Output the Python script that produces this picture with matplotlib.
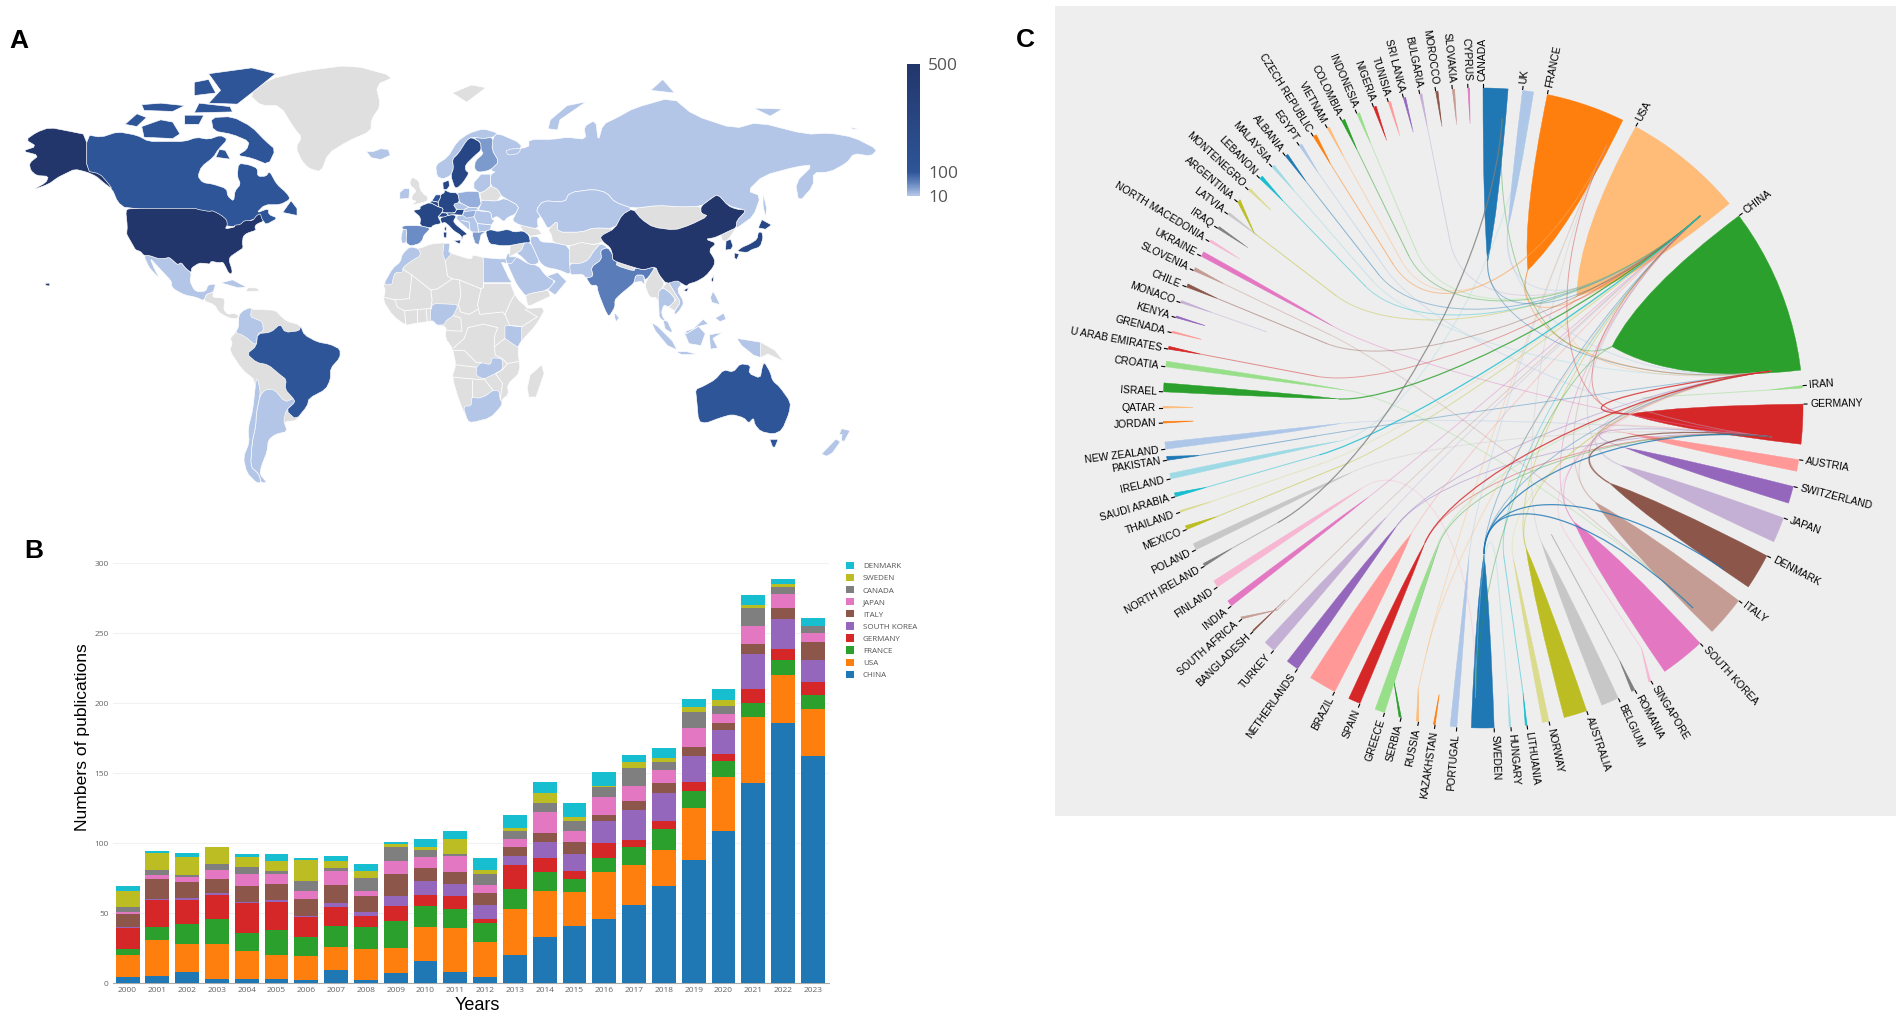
import numpy as np
import matplotlib
matplotlib.use('Agg')
import matplotlib.pyplot as plt
from matplotlib.colors import LinearSegmentedColormap
from matplotlib.patches import PathPatch, Polygon
from matplotlib.path import Path

W, H = 1902, 1018

# ---- panel B data
years = list(range(2000, 2024))
china = [4, 5, 8, 3, 3, 3, 2, 9, 2, 7, 16, 8, 4, 20, 33, 41, 46, 56, 69, 88, 109, 143, 186, 162]
usa = [16, 26, 20, 25, 20, 17, 17, 17, 22, 18, 24, 31, 25, 33, 33, 24, 33, 28, 26, 37, 38, 47, 34, 34]
france = [4, 9, 14, 18, 13, 18, 14, 15, 16, 19, 15, 14, 14, 14, 13, 9, 10, 13, 15, 12, 12, 10, 11, 10]
germany = [15, 19, 17, 17, 21, 20, 14, 13, 8, 11, 8, 9, 3, 17, 10, 6, 11, 5, 6, 7, 5, 10, 8, 9]
korea = [1, 1, 2, 1, 1, 1, 1, 3, 3, 7, 10, 9, 10, 7, 12, 12, 16, 22, 20, 18, 17, 25, 21, 16]
italy = [9, 14, 11, 10, 11, 12, 12, 13, 11, 16, 9, 8, 8, 6, 6, 9, 4, 6, 7, 7, 5, 7, 8, 13]
japan = [2, 3, 4, 7, 9, 7, 6, 10, 4, 9, 8, 12, 6, 6, 15, 8, 13, 11, 9, 13, 6, 13, 10, 6]
canada = [3, 4, 1, 4, 5, 2, 7, 2, 9, 10, 5, 1, 8, 6, 7, 7, 7, 13, 6, 12, 6, 13, 5, 5]
sweden = [12, 12, 13, 12, 7, 7, 15, 5, 5, 2, 2, 11, 3, 2, 7, 3, 1, 4, 3, 3, 4, 2, 2, 0]
denmark = [3, 1, 3, 0, 2, 5, 1, 4, 5, 2, 6, 6, 8, 9, 8, 10, 10, 5, 7, 6, 8, 7, 4, 6]
bar_series = [china, usa, france, germany, korea, italy, japan, canada, sweden, denmark]
bar_names = ['CHINA', 'USA', 'FRANCE', 'GERMANY', 'SOUTH KOREA', 'ITALY', 'JAPAN', 'CANADA', 'SWEDEN', 'DENMARK']

# ---- panel C data: name, outer arc start, outer arc end, tip radius, tip angle (degrees clockwise from north)
chord_names = ['CANADA', 'UK', 'FRANCE', 'USA', 'CHINA', 'IRAN', 'GERMANY', 'AUSTRIA', 'SWITZERLAND', 'JAPAN',
               'DENMARK', 'ITALY', 'SOUTH KOREA', 'SINGAPORE', 'ROMANIA', 'BELGIUM', 'AUSTRALIA', 'NORWAY',
               'LITHUANIA', 'HUNGARY', 'SWEDEN', 'PORTUGAL', 'KAZAKHSTAN', 'RUSSIA', 'SERBIA', 'GREECE', 'SPAIN',
               'BRAZIL', 'NETHERLANDS', 'TURKEY', 'BANGLADESH', 'SOUTH AFRICA', 'INDIA', 'FINLAND', 'NORTH IRELAND',
               'POLAND', 'MEXICO', 'THAILAND', 'SAUDI ARABIA', 'IRELAND', 'PAKISTAN', 'NEW ZEALAND', 'JORDAN',
               'QATAR', 'ISRAEL', 'CROATIA', 'U ARAB EMIRATES', 'GRENADA', 'KENYA', 'MONACO', 'CHILE', 'SLOVENIA',
               'UKRAINE', 'NORTH MACEDONIA', 'IRAQ', 'LATVIA', 'ARGENTINA', 'MONTENEGRO', 'LEBANON', 'MALAYSIA',
               'ALBANIA', 'EGYPT', 'CZECH REPUBLIC', 'VIETNAM', 'COLOMBIA', 'INDONESIA', 'NIGERIA', 'TUNISIA',
               'SRI LANKA', 'BULGARIA', 'MOROCCO', 'SLOVAKIA', 'CYPRUS']
chord_start = [0, 7.1, 11.6, 28.5, 53.1, 86, 89.3, 99.3, 104.2, 110.1, 117.5, 127, 137.3, 148.4, 151.7, 155, 161.1,
               168.1, 172.1, 175, 178, 184.7, 188.6, 191.6, 194.8, 197.9, 202.6, 207.6, 215.4, 220.8, 225.8, 228.8,
               231.8, 236, 240.4, 243.7, 247.7, 251, 253.9, 257.2, 260.6, 262.6, 267.3, 270, 272.9, 277.4, 280.6,
               283.6, 286.4, 289.2, 292.2, 295.4, 298.3, 301.3, 304.1, 307.2, 310, 312.9, 315.8, 318.8, 321.9, 325,
               328, 330.9, 333.8, 336.8, 340, 342.8, 345.6, 348.6, 351.5, 354.5, 357.3]
chord_end = [4.5, 9.1, 25.9, 50.3, 83.2, 86.4, 96.5, 101.4, 107.3, 114.7, 124, 134.3, 145.4, 148.8, 152.3, 158.2,
             165.3, 169.3, 172.4, 175.3, 182.1, 185.9, 188.9, 192, 195.2, 199.7, 204.8, 212.6, 217.7, 222.9, 226,
             229.2, 232.9, 237.3, 240.9, 244.9, 248.4, 251.3, 254.6, 258.2, 261.3, 263.9, 267.6, 270.3, 274.5, 278.4,
             281.1, 283.9, 286.7, 289.6, 292.8, 296, 299.2, 301.7, 304.5, 307.6, 310.6, 313.3, 316.4, 319.3, 322.4,
             325.5, 328.6, 331.3, 334.4, 337.3, 340.5, 343.2, 346, 349, 351.9, 354.9, 357.6]
chord_tip_r = [146, 183, 145, 146, 143, 160, 146, 146, 148, 148, 147, 146, 146, 152, 144, 147, 146, 153, 150, 173,
               146, 149, 290, 250, 146, 146, 147, 145, 146, 145, 276, 164, 145, 145, 235, 146, 146, 170, 170, 146,
               170, 143, 290, 290, 145, 139, 170, 290, 290, 230, 170, 170, 170, 285, 285, 285, 186, 290, 170, 170,
               170, 170, 170, 170, 170, 170, 285, 285, 285, 170, 285, 285, 285]
chord_tip_a = [1.8, 7.9, 18, 40, 64.5, 86.4, 92.4, 99.9, 105.6, 112.6, 120.7, 130, 141.4, 146.6, 151.6, 156.5, 162.9,
               168.6, 172, 175, 179.6, 185.4, 188.7, 193, 198, 198.4, 203.3, 209.7, 216.2, 221.5, 225.9, 225.5, 232.1,
               236.5, 240.8, 243.9, 247.8, 251, 254, 257, 260.5, 263.8, 267.4, 270.1, 273.6, 277.4, 280.8, 283.7,
               286.5, 289.4, 292.4, 295.6, 298.6, 301.5, 304.3, 307.4, 307.4, 313, 316, 319, 322, 325, 328, 331, 334,
               337, 340.2, 343, 345.8, 348.8, 351.7, 354.7, 357.4]
# where links land inside the larger sectors
hub_angle = {'CANADA': 3.8, 'UK': 8.7, 'FRANCE': 25.2, 'USA': 48.5, 'CHINA': 82.7, 'GERMANY': 95.7, 'AUSTRIA': 100.8,
             'SWITZERLAND': 107, 'JAPAN': 114.5, 'DENMARK': 123.8, 'ITALY': 133.6, 'SWEDEN': 181.5}
chord_links = [('PAKISTAN', 'CHINA'), ('IRELAND', 'UK'),
               ('NEW ZEALAND', 'GERMANY'), ('MEXICO', 'USA'), ('POLAND', 'GERMANY'),
               ('FINLAND', 'SWEDEN'), ('INDIA', 'USA'), ('SOUTH AFRICA', 'USA'), ('TURKEY', 'USA'),
               ('NETHERLANDS', 'GERMANY'), ('NETHERLANDS', 'CHINA'), ('BRAZIL', 'USA'), ('SPAIN', 'GERMANY'),
               ('GREECE', 'CHINA'), ('SERBIA', 'GERMANY'), ('RUSSIA', 'USA'), ('RUSSIA', 'FRANCE'),
               ('PORTUGAL', 'FRANCE'), ('SWEDEN', 'CHINA'),
               ('SWEDEN', 'USA'), ('HUNGARY', 'SWEDEN'), ('LITHUANIA', 'USA'),
               ('NORWAY', 'CHINA'), ('AUSTRALIA', 'CHINA'), ('AUSTRALIA', 'USA'), ('BELGIUM', 'FRANCE'),
               ('SINGAPORE', 'CHINA'), ('SOUTH KOREA', 'USA'), ('SOUTH KOREA', 'CHINA'), ('ITALY', 'USA'),
               ('ITALY', 'CHINA'), ('DENMARK', 'CHINA'), ('JAPAN', 'USA'), ('JAPAN', 'CHINA'),
               ('SWITZERLAND', 'GERMANY'), ('AUSTRIA', 'GERMANY'), ('GERMANY', 'USA'),
               ('GERMANY', 'FRANCE'), ('CANADA', 'USA'), ('CANADA', 'CHINA'), ('UK', 'USA'), ('UK', 'CHINA'),
               ('FRANCE', 'USA'), ('FRANCE', 'CHINA'), ('USA', 'CHINA'), ('CHINA', 'SWEDEN'), ('CHINA', 'CANADA'),
               ('ARGENTINA', 'USA'), ('MALAYSIA', 'CHINA'), ('LEBANON', 'USA'), ('ALBANIA', 'USA'),
               ('EGYPT', 'GERMANY'), ('CZECH REPUBLIC', 'FRANCE'), ('VIETNAM', 'FRANCE'), ('COLOMBIA', 'USA'),
               ('INDONESIA', 'USA'), ('BULGARIA', 'USA'), ('UKRAINE', 'GERMANY'), ('SLOVENIA', 'ITALY'),
               ('CHILE', 'USA'), ('CROATIA', 'ITALY'), ('U ARAB EMIRATES', 'USA'), ('THAILAND', 'USA')]
# the few links that stand out in the diagram
strong_links = [('ISRAEL', 'USA'), ('SAUDI ARABIA', 'USA'), ('NORTH IRELAND', 'CANADA'), ('SWEDEN', 'ITALY'),
                ('SWEDEN', 'GERMANY'), ('SWEDEN', 'DENMARK'), ('SPAIN', 'CHINA'), ('GERMANY', 'CHINA'),
                ('DENMARK', 'GERMANY')]

# ---- panel A data: rough country outlines, lon / lat
GREENLAND = [(-73, 78.2), (-68, 76), (-60, 76), (-54, 71), (-51, 69), (-53.5, 66.5), (-51, 63), (-48, 61), (-43, 60), (-40, 65), (-32, 68), (-22, 70.5), (-22, 73), (-18, 76), (-20, 80), (-12, 81.5), (-30, 83.5), (-50, 82.5), (-65, 81)]
ICELAND = [(-24, 65.5), (-22, 63.9), (-18, 63.4), (-14, 64.5), (-14.8, 66), (-18, 66.2), (-21, 65.5)]
SVALBARD = [(12, 78.5), (20, 80), (26, 79.5), (18, 76.7)]
ALASKA = [(-141, 69.6), (-148, 70.4), (-156.5, 71.3), (-162, 70.2), (-166.5, 68.4), (-162, 66.8), (-168, 65.6), (-161, 64.5), (-165, 62.5), (-164.5, 60.5), (-162, 59), (-157, 58.8), (-158, 57), (-164, 54.7), (-157, 56.5), (-153, 58.5), (-150, 59.5), (-146, 60.8), (-141, 60), (-137, 58.8), (-134, 57), (-130.3, 55), (-132, 56.8), (-135.5, 59.5), (-141, 60.3)]
USA48 = [(-124.7, 48.4), (-123, 49), (-95.2, 49), (-94.6, 48.7), (-89.6, 48), (-88.4, 48.3), (-84.9, 46.9), (-82.5, 45.3), (-82.1, 43.6), (-83.1, 42.1), (-79, 42.8), (-79.2, 43.4), (-76.8, 43.6), (-75, 45), (-71.5, 45), (-69.9, 46.7), (-68.3, 47.3), (-67.8, 45.7), (-67, 44.8), (-70, 43.7), (-70.7, 42.7), (-70, 41.7), (-74, 40.6), (-75.5, 39.5), (-75.9, 37.2), (-75.5, 35.3), (-77.9, 33.9), (-81, 32), (-81.4, 30.5), (-80.1, 26.8), (-80.4, 25.2), (-81.8, 26), (-82.8, 28), (-84, 30), (-85.5, 29.7), (-89, 30.3), (-89.5, 29.2), (-91.5, 29.5), (-94, 29.6), (-97.2, 27.7), (-97.2, 25.9), (-99.5, 27.5), (-101.4, 29.8), (-103, 29), (-104.9, 30.6), (-106.5, 31.8), (-108.2, 31.4), (-111, 31.3), (-114.8, 32.5), (-117.1, 32.5), (-118.5, 34), (-120.6, 34.6), (-122, 36.8), (-123.8, 39.5), (-124.3, 40.4), (-124, 43)]
HAWAII = [(-158.5, 21.6), (-156.5, 21.8), (-156.5, 20.6), (-158, 20.8)]
CANADA_MAIN = [(-141, 69.6), (-135, 69), (-128, 70.3), (-120, 69.5), (-115, 68), (-108, 68), (-100, 68), (-95, 69), (-90, 68.5), (-85, 69.5), (-82, 68.5), (-86, 66), (-88, 64), (-93, 61.5), (-94.5, 58.8), (-92.5, 57), (-88, 56.5), (-82.5, 55.2), (-82, 52.9), (-79.5, 51.3), (-79, 54.5), (-76.6, 56.5), (-78, 58.8), (-77.5, 62.4), (-73, 62), (-69.5, 61), (-69.5, 58.8), (-66, 58.8), (-64.5, 60.3), (-61.5, 56.5), (-57.5, 54), (-55.7, 52), (-60, 50.2), (-66.5, 50.2), (-70, 47.5), (-65, 49), (-64.8, 47), (-61, 45.8), (-66, 43.6), (-67, 44.8), (-70, 46), (-80, 42), (-95, 48), (-124.7, 49), (-128, 51), (-130.3, 55), (-134, 57), (-137, 58.8), (-141, 60.3)]
BAFFIN = [(-62, 66), (-65, 62), (-72, 63.8), (-78, 64.5), (-74, 66), (-73, 68), (-80, 69.7), (-88, 70.5), (-89, 73.5), (-80, 73.7), (-72, 71.5), (-66, 68)]
VICTORIA = [(-117, 69), (-105, 68.7), (-102, 69.8), (-105, 72.5), (-110, 73), (-118, 71.5)]
BANKS = [(-125, 72), (-120, 71.5), (-116, 73.5), (-120, 74.3)]
ELLESMERE = [(-90, 76.5), (-78, 76.3), (-72, 78.5), (-62, 82), (-72, 83), (-90, 82), (-85, 79)]
DEVON = [(-96, 74.5), (-80, 74.7), (-81, 75.8), (-94, 76.5)]
MELVILLE = [(-117, 75), (-105, 74.8), (-100, 76), (-110, 76.5), (-118, 76.2)]
HEIBERG = [(-96, 78), (-87, 78.5), (-90, 81), (-96, 80.5)]
KING_W = [(-100, 72), (-94, 72), (-92, 74), (-100, 74)]
SOUTHAMPTON = [(-87, 64), (-81, 63.5), (-83, 65.8), (-85.5, 66)]
NEWFOUNDLAND = [(-59, 47.7), (-53, 46.7), (-53, 49), (-55.5, 51.5)]
MEXICO = [(-117.1, 32.5), (-114.8, 32.5), (-111, 31.3), (-108.2, 31.4), (-106.5, 31.8), (-104.9, 30.6), (-103, 29), (-101.4, 29.8), (-99.5, 27.5), (-97.2, 25.9), (-97.8, 22.5), (-96, 19), (-94, 18.2), (-91, 18.7), (-90.4, 21), (-87, 21.5), (-88, 18.3), (-89, 17.9), (-91, 17.2), (-92, 14.6), (-95, 16), (-100, 17), (-104, 19), (-105.5, 20.5), (-105.5, 22.5), (-109, 26), (-112, 29), (-114.5, 31.5), (-112.5, 27), (-110, 23), (-109.5, 23), (-112, 25), (-115, 28)]
CENTRAL_AM = [(-92, 14.6), (-91, 17.2), (-89, 17.9), (-88, 18.3), (-88.3, 16), (-84, 15.8), (-83.2, 15), (-83.7, 11), (-82, 9), (-79.5, 9.5), (-77.4, 8.6), (-78, 7.3), (-80.5, 7.3), (-83, 8.3), (-85.8, 10), (-87.5, 13)]
CUBA = [(-84.9, 21.9), (-80, 23.1), (-74.2, 20.2), (-77.7, 19.9)]
HISPANIOLA = [(-74.4, 18.4), (-68.4, 18.6), (-69.9, 19.8), (-73.5, 19.9)]
SOUTH_AM = [(-77.4, 8.6), (-75.5, 10.7), (-72, 12), (-71.5, 11), (-68, 11), (-62, 10.7), (-60, 8.5), (-57, 6), (-52, 4.8), (-50, 0.5), (-44.5, -2.5), (-39, -3.5), (-35, -5.5), (-35, -9), (-39, -13.5), (-39, -18), (-41, -22), (-48, -25.5), (-48.7, -28.5), (-53, -34), (-58.5, -34.5), (-57, -38), (-62, -39), (-65, -41), (-65.5, -45), (-68, -50), (-68.5, -52.5), (-65.5, -55), (-70, -55), (-74, -52), (-75.5, -47), (-73, -42), (-73.5, -37), (-71.5, -30), (-70.2, -18.5), (-76, -14), (-81.3, -6), (-80, -3), (-81, -1), (-78.8, 1.4), (-77.4, 4)]
BRAZIL = [(-60, 5), (-58, 1.5), (-52, 2.2), (-51.5, 4.3), (-50, 0.5), (-44.5, -2.5), (-39, -3.5), (-35, -5.5), (-35, -9), (-39, -13.5), (-39, -18), (-41, -22), (-48, -25.5), (-48.7, -28.5), (-53.4, -33.7), (-57.6, -30.2), (-53.8, -27), (-54.6, -25.5), (-58, -22), (-57.5, -18), (-60.2, -16), (-65, -12), (-70, -11), (-74, -7.5), (-70, -4.2), (-69.5, 1), (-64, 1.5)]
ARGENTINA = [(-65.5, -55), (-68.5, -52.5), (-68, -50), (-65.5, -45), (-65, -41), (-62, -39), (-57, -38), (-58.5, -34.5), (-58.3, -33), (-57.6, -30.2), (-53.8, -27), (-54.6, -25.5), (-58, -27), (-62.5, -22), (-66.2, -22), (-68.5, -24.5), (-70, -31), (-70.3, -36), (-71.8, -42), (-72.5, -50), (-69, -52.3), (-68, -55)]
CHILE = [(-69.6, -17.5), (-68.5, -22), (-68.5, -24.5), (-70, -31), (-70.3, -36), (-71.8, -42), (-72.5, -50), (-69, -52.3), (-68, -55), (-70, -55), (-74, -52), (-75.5, -47), (-73, -42), (-73.5, -37), (-71.5, -30), (-70.2, -18.5)]
COLOMBIA = [(-77.4, 8.6), (-75.5, 10.7), (-72, 12), (-72.5, 8), (-70, 7), (-67.5, 6), (-67, 2), (-69.5, 1), (-70, -4.2), (-75, 0), (-78.8, 1.4), (-77.4, 4)]
AFRICA = [(-5.8, 35.8), (-2, 35), (3, 36.8), (10, 37.3), (11, 33.5), (15, 32.3), (20, 31), (20.5, 32.8), (25, 31.7), (32, 31.2), (34.3, 31.3), (32.5, 29.9), (35.5, 24), (37.5, 18.5), (39.5, 15), (43.2, 12), (43, 11.5), (51.2, 11.9), (47, 4.5), (41, -2), (39.3, -5), (40.5, -15), (35, -20), (35.5, -24), (32.8, -26), (32.5, -28.5), (28, -33), (20, -34.8), (18.3, -34), (15, -27), (11.8, -17), (13.5, -12), (12, -5), (9, -1), (9.5, 4), (5.5, 4.5), (4, 6.3), (-4, 5.2), (-7.5, 4.4), (-13, 8.5), (-17, 14.7), (-16, 19), (-17, 21), (-13, 27.7), (-9.8, 30), (-9, 33)]
MOROCCO = [(-5.8, 35.8), (-2, 35), (-1.2, 32.5), (-5, 30.5), (-8.7, 28), (-8.7, 26), (-12, 26), (-13, 23), (-13, 21.3), (-17, 21), (-13, 27.7), (-9.8, 30), (-9, 33)]
TUNISIA = [(8.5, 37), (11, 37), (10.5, 34), (11.5, 33), (9, 30.5), (8, 33)]
EGYPT = [(25, 31.7), (32, 31.2), (34.3, 31.3), (34.9, 29.5), (32.5, 29.9), (35.5, 24), (36.9, 22), (25, 22)]
NIGERIA = [(2.7, 6.3), (4, 6.3), (5.5, 4.5), (8.5, 4.7), (9.5, 6.5), (12.5, 8.5), (14.5, 13), (10, 13.3), (4, 13.5), (3, 11.5)]
KENYA = [(34, 4.2), (34, -1), (37.7, -3.6), (39.3, -4.7), (41, -1.8), (41, 3.9), (36, 4.4)]
ZAMBIA = [(22, -13), (24, -11), (28, -12), (28.5, -9), (33, -9.5), (33, -14), (30, -15.6), (28, -16.5), (25.3, -17.8), (22, -16.5)]
S_AFRICA = [(16.5, -28.6), (20, -28.4), (20, -25), (23, -25.5), (26, -24.5), (29, -22.3), (31.5, -22.5), (32, -26), (32.8, -27), (32.5, -28.5), (28, -33), (20, -34.8), (18.3, -34)]
MADAGASCAR = [(49.3, -12), (50.4, -15.5), (47, -25), (44, -25), (43.3, -21.5), (44.5, -16.2)]
AFRICA_BORDERS = [[(9, 30.5), (10, 24.5), (12, 23.5)], [(-8.7, 27.3), (-5, 25), (3, 19), (5.8, 19.5), (12, 23.5)], [(12, 23.5), (15, 23), (24, 19.5), (25, 20), (25, 22)], [(-5, 25), (-6, 15.5), (-12, 15), (-16.5, 16)], [(3, 19), (3.5, 15), (3, 11.5)], [(14.5, 13), (15.5, 16.5), (15, 23)], [(24, 19.5), (22.5, 13), (23.5, 9), (28, 9.5), (33, 10), (34, 9), (36.5, 14.5), (38.5, 18)], [(25, 22), (36.9, 22)], [(14.5, 13), (15.5, 10), (19, 9), (22.5, 11)], [(12.5, -6), (17, -6), (22, -11), (24, -11)], [(29.5, -4), (29.7, 0), (31, 3.5), (25, 5), (18.5, 3.5), (17, -1), (12.5, -5)], [(34, 9), (36, 4.4), (41, 3.9), (47.5, 8), (42.5, 11)], [(11.8, -17), (23, -18), (25.3, -17.8)], [(20, -18), (20, -25)], [(34, -1), (29.5, -4.5), (30, -8), (33, -9.5), (35, -11.5), (40.4, -10.5)], [(35, -11.5), (33, -14), (30, -15.6), (33, -19.5), (32, -26)], [(-8, 10.5), (-3, 11), (3, 11.5)], [(-3, 11), (-3, 5)], [(1.5, 6), (1, 11)], [(-8, 10.5), (-7.5, 4.4)], [(-12, 15), (-11, 12), (-8, 10.5)], [(12.5, 8.5), (15.5, 7.5), (16, 2), (9.7, 2.3)], [(29, -22.3), (25.3, -17.8)], [(22, -13), (13.5, -12)]]
NORWAY = [(5, 62), (10, 64), (14, 68), (19, 70), (25, 71), (31, 70), (29, 69), (25, 68.7), (20, 69), (18, 68.3), (14.5, 65), (12, 63.5), (12.5, 61), (11.3, 59), (8, 58), (5.5, 58.8)]
SWEDEN = [(11.3, 59), (12.5, 61), (12, 63.5), (14.5, 65), (18, 68.3), (20, 69), (23.8, 67.8), (24, 65.8), (21.5, 64.5), (17.5, 62), (17.5, 60.5), (19, 59.7), (16.5, 57), (14.3, 55.5), (13, 55.4)]
FINLAND = [(24, 65.8), (23.8, 67.8), (20.7, 69), (25, 68.7), (29, 69), (28.5, 66), (31.5, 62.8), (27.8, 60.5), (23, 59.9), (21.3, 60.8), (21.5, 63), (25, 65)]
DENMARK = [(8.2, 55), (8, 57), (10.5, 57.7), (10.8, 56), (9.7, 54.9)]
GERMANY = [(7, 53.3), (8.7, 54), (8.5, 54.9), (11, 54), (14.2, 53.9), (15, 51), (12.3, 50.3), (13.8, 48.6), (13, 47.5), (7.6, 47.6), (8.2, 49), (6.2, 49.5), (6, 51), (7, 52.3)]
NETHERLANDS = [(7, 53.3), (5, 53.3), (3.4, 51.4), (6, 51), (7, 52.3)]
BELGIUM = [(3.4, 51.4), (6, 51), (6.2, 49.5), (2.6, 51)]
FRANCE = [(2.6, 51), (6.2, 49.5), (8.2, 49), (7.6, 47.6), (6, 46.2), (7.5, 44), (4, 43.4), (3, 42.4), (-1.7, 43.3), (-1.2, 46), (-4.7, 48.4), (-1.5, 48.7), (-1.5, 49.7)]
CORSICA = [(8.6, 42.5), (9.5, 43), (9.4, 41.5), (8.8, 41.5)]
SPAIN = [(-9.2, 43.2), (-1.7, 43.3), (3, 42.4), (0, 39.8), (-0.5, 38.2), (-2, 36.8), (-5.5, 36), (-7.4, 37.2), (-7, 42), (-8.8, 42)]
PORTUGAL = [(-8.8, 42), (-7, 42), (-7.4, 37.2), (-9, 37), (-9.5, 38.8)]
ITALY = [(7.5, 44), (6.9, 45.8), (8.5, 46.4), (12, 47), (13.7, 46.5), (12.4, 44.8), (13.5, 43.6), (16, 41.9), (18.5, 40.2), (16.5, 39.8), (16, 38), (15.7, 39.8), (12.5, 41.5), (10.3, 43.5), (8.8, 44.4)]
SICILY = [(12.5, 38), (15.6, 38.2), (15, 36.7)]
SARDINIA = [(8.2, 41), (9.7, 41), (9.5, 39), (8.5, 39)]
SWITZERLAND = [(6, 46.2), (7.6, 47.6), (9.5, 47.5), (10.4, 46.8), (8.5, 46.2)]
AUSTRIA = [(9.5, 47.5), (13, 47.5), (13.8, 48.6), (17, 48.7), (16.2, 46.8), (12, 47), (10.4, 46.8)]
UK = [(-5.5, 50), (1.5, 51.2), (1.7, 52.7), (0, 53.5), (-1.5, 55), (-2, 57.5), (-5, 58.6), (-6, 56.5), (-3, 54.5), (-4.8, 53.2), (-5, 51.7), (-3, 51.3)]
IRELAND = [(-10, 52), (-6.2, 52.2), (-6, 53.8), (-6, 55.2), (-8.2, 55.2), (-10, 54)]
POLAND = [(14.2, 53.9), (19, 54.4), (23, 54.3), (24, 50.5), (22.7, 49.2), (19, 49.4), (15, 51)]
BELARUS = [(23.5, 53.9), (25.5, 54.5), (28, 56), (31, 55), (32.5, 53), (30.5, 51.3), (24, 51.7)]
BALTICS = [(21, 57), (24, 59.4), (28, 59.4), (28, 56), (25.5, 54.5), (23.5, 53.9), (21, 55.3)]
UKRAINE = [(24, 50.5), (24, 51.7), (30.5, 51.3), (34, 52.3), (40, 49.8), (38.5, 47.2), (35, 46), (33.5, 44.5), (30.7, 46.5), (28.5, 45.5), (28, 48), (22.7, 48.2)]
E_EUROPE = [(12.3, 50.3), (15, 51), (19, 49.4), (22.7, 49.2), (22.7, 48.2), (28, 48), (28.5, 45.5), (29.7, 45), (28.3, 43.5), (28, 41.9), (26, 41.3), (23.5, 41), (20.5, 41), (19.4, 41.5), (13.7, 45.5), (13.7, 46.5), (16.2, 46.8), (17, 48.7), (13.8, 48.6)]
HUNGARY = [(16.2, 46.8), (17, 48), (22, 48.4), (21, 46.3), (18, 45.8)]
GREECE = [(20.5, 39.6), (20.5, 41), (23.5, 41), (26, 41.3), (24, 40), (23.5, 38), (23, 36.5), (21.5, 37)]
EUROPE_BORDERS = [[(19, 49.4), (17, 48.7)], [(22.5, 44), (21, 46.3)], [(22, 48.4), (27, 48)], [(22.5, 44), (28.3, 43.5)], [(22.5, 44), (23, 41)], [(19.4, 41.5), (19, 44.5), (16, 45)]]
TURKEY = [(26.2, 40), (26, 41.3), (28, 41.9), (31, 41.2), (35, 42), (38, 41), (41.5, 41.5), (44, 40), (44.7, 37.2), (42, 37.2), (36.2, 36.2), (32.5, 36.1), (30.5, 36.4), (27.5, 36.8)]
RUSSIA = [(38.5, 47.2), (40, 49.8), (34, 52.3), (32.5, 53), (31, 55), (28, 56), (28, 59.4), (30, 60), (27.8, 60.5), (31.5, 62.8), (28.5, 66), (29, 69), (31, 70), (41, 67.5), (40, 65), (35, 64.5), (34.5, 66), (44, 66.5), (44, 68.5), (54, 68.5), (60, 69), (68, 68.5), (67, 71.5), (72, 73), (73, 68), (75, 72), (81, 73.5), (88, 75.5), (104, 77.7), (113, 74), (130, 71), (140, 72.5), (160, 69.7), (170, 70), (180, 69), (190, 66), (187, 64.3), (180, 65), (177, 62.5), (170, 60), (163, 59.8), (163, 56), (157, 51), (155.5, 57), (163, 62), (156, 61.5), (142, 59), (135.5, 54.5), (141, 53), (138, 46.5), (132, 43), (130.7, 42.3), (131, 45), (135, 48.4), (127.5, 49.8), (123, 53.5), (120, 52), (116, 49.7), (108, 49.5), (98, 50), (87.5, 49), (80, 51), (76.5, 54), (71, 55), (61, 54), (59, 51), (50, 51.5), (47, 48.5), (49, 46.3), (47.5, 45.5), (48, 42), (40, 43.5), (37, 45)]
NOVAYA = [(52, 71), (56, 70.7), (57, 73), (68, 76.8), (60, 76), (53, 73)]
SAKHALIN = [(142, 54), (143.5, 49), (143, 46), (142, 50)]
NEW_SIB = [(138, 75.5), (150, 75.3), (145, 73.8)]
SEVERNAYA = [(95, 79), (105, 78.5), (100, 81)]
WRANGEL = [(178, 71.3), (182, 71), (180, 70.8)]
KAZAKHSTAN = [(47, 48.5), (50, 51.5), (59, 51), (61, 54), (71, 55), (76.5, 54), (80, 51), (87.5, 49), (83, 47), (80, 42.3), (71, 42.5), (66, 41), (56, 41), (56, 45), (52, 42), (50, 45), (49, 46.3)]
C_ASIA = [(52, 42), (56, 45), (56, 41), (66, 41), (71, 42.5), (80, 42.3), (75, 37.5), (71, 36.5), (66, 37.3), (61, 36), (54, 37.3), (53.5, 40)]
AFGHANISTAN = [(61, 36), (66, 37.3), (71, 36.5), (74, 37), (71, 34), (69, 31), (66, 29.5), (61, 29.5)]
PAKISTAN = [(61, 25), (66.5, 25.3), (68, 23.7), (71, 24.5), (70, 28), (74.5, 31), (74, 34.5), (77, 35.5), (74, 37), (71, 34), (69, 31), (66, 29.5), (61, 29.5)]
IRAN = [(44.7, 39.5), (44.7, 37.2), (46, 35), (48.5, 30), (51, 28), (56.5, 27), (61.5, 25), (61, 29.5), (61, 36), (54, 37.3), (49, 37.5), (47.8, 39.5)]
CAUCASUS = [(40, 43.5), (48, 42), (49.5, 40.3), (44.7, 39.5), (44, 40), (41.5, 41.5)]
IRAQ = [(38.8, 33.4), (41, 34.5), (42, 37.2), (44.7, 37.2), (46, 35), (48.5, 30), (46.5, 29), (44, 29.2), (41, 32)]
SAUDI = [(34.9, 29.5), (36, 32), (39, 32), (44, 29.2), (46.5, 29), (48.5, 28), (50, 26), (51.5, 24.5), (55, 22.5), (52, 19), (44, 17.5), (42.7, 16.5), (39, 21), (36.8, 25.5)]
OMAN = [(51.5, 24.5), (56, 26), (59.8, 22.5), (55, 17), (52, 19), (55, 22.5)]
YEMEN = [(42.7, 16.5), (44, 17.5), (52, 19), (53, 16.5), (45, 12.8), (43.5, 12.7)]
SYRIA = [(36, 33.5), (36.2, 36.2), (42, 37.2), (41, 34.5), (38.8, 33.4), (36, 32)]
LEVANT = [(34.3, 31.3), (35, 33), (36, 33.5), (36, 32), (39, 32), (36.8, 29.5), (34.9, 29.5)]
INDIA = [(68, 23.7), (71, 24.5), (70, 28), (74.5, 31), (74, 34.5), (77, 35.5), (79, 33), (79, 31), (81, 30), (80.5, 28.7), (88, 26.5), (88.5, 27.8), (92, 27), (97, 28.3), (94, 24), (92.5, 23), (92, 25), (88.7, 25), (88, 22), (87, 21), (82, 17), (80, 15), (80, 12), (77.5, 8), (76, 10.5), (73, 18), (72.5, 21), (70, 20.8), (68.7, 22.8)]
BANGLADESH = [(88, 22), (88.7, 25), (92, 25), (92.5, 21), (91, 22.5)]
SRI_LANKA = [(80, 9.7), (81.8, 7.5), (80.5, 6), (79.8, 8)]
NEPAL = [(80.5, 28.7), (81, 30), (88, 27.8), (88, 26.5)]
MYANMAR = [(92.5, 21), (94, 24), (97, 28.3), (98.5, 25), (101, 21.3), (98, 18), (98.5, 10), (97.7, 16), (94.5, 16)]
CHINA_MAIN = [(73.7, 39.5), (75, 37.5), (78, 35.5), (79, 33), (79, 31), (81, 30), (88.5, 27.8), (92, 27), (97, 28.3), (98.5, 25), (101.5, 21.5), (106, 22.8), (108, 21.6), (110, 20.5), (111, 21.5), (114, 22.3), (118, 24.5), (121.5, 28.5), (121.8, 31), (119.3, 34.5), (122.5, 37), (118, 38.5), (121.5, 39), (124.3, 40), (128, 41.5), (130.7, 42.5), (131, 45), (135, 48.4), (130.7, 48.8), (127.5, 49.8), (123, 53.5), (120, 52), (116, 49.7), (116, 47.5), (119, 46.5), (111.5, 43.5), (105, 41.7), (96, 42.7), (91, 45.5), (87.5, 49), (83, 47), (80, 42.3)]
HAINAN = [(108.7, 19), (111, 20), (110, 18.3)]
TAIWAN = [(120.2, 23), (121.5, 25), (121, 22)]
MONGOLIA = [(87.5, 49), (98, 50), (108, 49.5), (116, 49.7), (116, 47.5), (119, 46.5), (111.5, 43.5), (105, 41.7), (96, 42.7), (91, 45.5)]
N_KOREA = [(124.3, 40), (128, 41.5), (130.7, 42.5), (128, 39), (126.5, 37.8), (125, 38)]
S_KOREA = [(126.5, 37.8), (128.4, 38.5), (129.4, 36), (128.5, 34.8), (126.3, 34.5)]
HONSHU = [(131, 34), (133, 35.5), (136.5, 36.8), (139.5, 38.5), (140, 41), (141.5, 41), (142, 39), (140.8, 35.7), (137, 34.6), (135.5, 33.6)]
HOKKAIDO = [(140, 42.5), (141.5, 45.3), (145.5, 43.5), (143, 42)]
KYUSHU = [(130, 33.5), (132, 33), (131, 31), (130, 31.5)]
THAILAND = [(98.5, 10), (98, 18), (100, 20), (103, 18), (105.5, 15), (102.5, 12), (100.5, 13), (99.5, 10), (100, 8), (101.5, 6), (100, 6.5), (98.5, 8)]
INDOCHINA = [(100, 20), (102.2, 22.5), (105, 18), (107.5, 14), (105, 10.5), (102.5, 12), (105.5, 15), (103, 18)]
VIETNAM = [(102.2, 22.5), (106, 22.8), (108, 21.6), (106, 19), (109, 14), (107, 10.5), (105, 8.7), (105, 10.5), (107.5, 14), (105, 18)]
MALAYA = [(100.2, 6.5), (102, 6.2), (104, 2), (103.5, 1.4), (101, 3)]
SARAWAK = [(109.6, 2), (113, 3.2), (117, 7), (119, 5), (115, 4), (110, 1)]
SUMATRA = [(95.3, 5.6), (98, 4), (104, -2), (106, -5.8), (102, -4), (97, 2)]
JAVA = [(105.5, -6.5), (110, -6.5), (114.5, -7.7), (108, -7.8)]
KALIMANTAN = [(109, 1.5), (110, 1), (115, 4), (117.8, 1), (116, -4), (111, -3.2)]
SULAWESI = [(119.5, 0.5), (125, 1.5), (121, -1), (123, -5), (120, -5.5)]
W_PAPUA = [(131, -1), (141, -2.6), (141, -9), (138, -8), (133, -4)]
PNG = [(141, -2.6), (147, -6), (150.5, -10.5), (144, -7.5), (141, -9)]
LUZON = [(120, 16), (121, 18.5), (122.3, 16.5), (124, 13), (120.5, 14)]
MINDANAO = [(122, 7.5), (125.5, 9.5), (126.5, 7), (124, 6)]
AUSTRALIA = [(113.7, -22), (114.2, -26), (115, -34.3), (118, -35), (124, -33), (129, -31.7), (134, -33), (136, -35), (138, -33), (138.5, -35.5), (141, -38), (146.3, -39), (150, -37.5), (153, -31), (153.5, -27), (149, -21), (146, -18.5), (145, -15), (142.5, -10.8), (141.6, -13), (140.8, -17.5), (136, -15.5), (136.8, -12.2), (132.5, -11.5), (129.5, -15), (125.5, -14), (122, -18), (117, -20.7)]
TASMANIA = [(144.8, -40.8), (148.3, -40.8), (147, -43.5), (146, -43.5)]
NZ_NORTH = [(172.7, -34.5), (175, -37), (178.4, -37.7), (176, -41.5), (174.8, -41.3), (175, -39), (173.8, -39.3), (174.8, -37)]
NZ_SOUTH = [(172.5, -40.7), (174.3, -41.7), (171, -45.5), (168.5, -46.6), (166.5, -45.8), (171, -42)]

c_top = '#22366b'
c_dark = '#264685'
c_mid = '#2e5597'
c_india = '#5a7cb8'
c_spain = '#6b8cc4'
c_fin = '#7d9acc'
c_pol = '#95aedb'
c_light = '#b3c6e7'
c_none = '#dfdfdf'
map_layers = [
    (c_none, [GREENLAND, SVALBARD, CENTRAL_AM, HISPANIOLA, SOUTH_AM, AFRICA, MADAGASCAR, UK, BELARUS, C_ASIA, AFGHANISTAN,
              CAUCASUS, YEMEN, SYRIA, NEPAL, MYANMAR, MONGOLIA, N_KOREA, INDOCHINA, PNG]),
    (c_light, [ICELAND, MEXICO, CUBA, ARGENTINA, CHILE, COLOMBIA, MOROCCO, TUNISIA, EGYPT, NIGERIA, KENYA, ZAMBIA, S_AFRICA,
               NORWAY, PORTUGAL, IRELAND, BALTICS, UKRAINE, E_EUROPE, RUSSIA, NOVAYA, SAKHALIN, NEW_SIB, SEVERNAYA,
               WRANGEL, KAZAKHSTAN, PAKISTAN, IRAN, IRAQ, SAUDI, OMAN, LEVANT, BANGLADESH, SRI_LANKA, THAILAND, VIETNAM,
               MALAYA, SARAWAK, SUMATRA, JAVA, KALIMANTAN, SULAWESI, W_PAPUA, LUZON, MINDANAO, NZ_NORTH, NZ_SOUTH]),
    (c_pol, [POLAND, HUNGARY]),
    (c_fin, [FINLAND, GREECE]),
    (c_spain, [SPAIN]),
    (c_india, [INDIA]),
    (c_mid, [CANADA_MAIN, BAFFIN, VICTORIA, BANKS, ELLESMERE, DEVON, MELVILLE, HEIBERG, KING_W, SOUTHAMPTON, NEWFOUNDLAND,
             BRAZIL, AUSTRALIA, TASMANIA, TURKEY, NETHERLANDS]),
    (c_dark, [GERMANY, FRANCE, CORSICA, ITALY, SICILY, SARDINIA, SWEDEN, DENMARK, BELGIUM, SWITZERLAND, AUSTRIA, HONSHU,
              HOKKAIDO, KYUSHU, S_KOREA]),
    (c_top, [USA48, ALASKA, HAWAII, CHINA_MAIN, HAINAN, TAIWAN]),
]

cbar_ticks = [10, 100, 500]


def miller(lat):
    phi = np.radians(np.asarray(lat, dtype=float))
    return 1.25 * np.log(np.tan(np.pi / 4 + 0.4 * phi))


def soften(shape):
    # one round of corner cutting so long coasts look less angular
    pts = np.array(shape, dtype=float)
    if len(pts) < 9:
        return pts
    nxt = np.roll(pts, -1, axis=0)
    return np.column_stack([0.8 * pts + 0.2 * nxt, 0.2 * pts + 0.8 * nxt]).reshape(-1, 2)


def px_axes(x0, y0, x1, y1):
    # axes from pixel box of the target picture (y counted from the top)
    return fig.add_axes([x0 / W, 1 - y1 / H, (x1 - x0) / W, (y1 - y0) / H])


fig = plt.figure(figsize=(W / 100, H / 100), dpi=100, facecolor='white')

# ---- A: world map in Miller projection
px_per_deg = 2.39
ax_map = px_axes(0, 50, 885, 520)
ax_map.set_xlim((0 - 423.7) / px_per_deg, (885 - 423.7) / px_per_deg)
ax_map.set_ylim((336 - 520) / 137, (336 - 50) / 137)
ax_map.axis('off')
for color, shapes in map_layers:
    for shape in shapes:
        pts = soften(shape)
        ax_map.add_patch(Polygon(np.column_stack([pts[:, 0], miller(pts[:, 1])]), closed=True, fc=color, ec='white', lw=0.45))
for line in AFRICA_BORDERS + EUROPE_BORDERS:
    lon, lat = zip(*line)
    ax_map.plot(lon, miller(lat), color='white', lw=0.6)

# colour scale
cmap = LinearSegmentedColormap.from_list('pubs', [(0, c_light), (0.1, '#5f81bb'), (0.18, c_mid), (1, c_top)])
ax_cb = px_axes(907, 64, 920, 196)
vals = np.linspace(10, 500, 200)
ax_cb.pcolormesh([0, 1], np.append(vals, 500.1), vals[:, None], cmap=cmap, vmin=10, vmax=500)
ax_cb.set_xticks([])
ax_cb.yaxis.tick_right()
ax_cb.set_yticks(cbar_ticks, [str(t) for t in cbar_ticks])
ax_cb.tick_params(axis='y', length=0, pad=6, labelsize=12.5, labelcolor='#555555')
for lab in ax_cb.get_yticklabels():
    lab.set_family('Open Sans')
for s in ax_cb.spines.values():
    s.set_visible(False)

# ---- B: stacked bars
ax = px_axes(113, 563.3, 829, 983)
bottom = np.zeros(len(years))
tab10 = plt.get_cmap('tab10').colors
for i, (name, vals) in enumerate(zip(bar_names, bar_series)):
    ax.bar(years, vals, 0.8, bottom=bottom, color=tab10[i], label=name, zorder=3)
    bottom += np.array(vals)
ax.set_xlim(1999.51, 2023.54)
ax.set_ylim(0, 300)
ax.set_xticks(years)
ax.set_yticks(range(0, 301, 50))
ax.grid(axis='y', color='#f1f1f1', lw=0.8, zorder=0)
ax.set_axisbelow(True)
for side in ['top', 'right', 'left']:
    ax.spines[side].set_visible(False)
ax.spines['bottom'].set_color('#aaaaaa')
ax.tick_params(length=0, labelsize=6, labelcolor='#666666', pad=3)
for lab in ax.get_xticklabels() + ax.get_yticklabels():
    lab.set_family('Open Sans')
fig.text(82 / W, 1 - 737 / H, 'Numbers of publications', rotation=90, ha='center', va='center', fontsize=12.6,
         family='Liberation Sans')
fig.text(477 / W, 1 - 1006 / H, 'Years', ha='center', va='center', fontsize=13, family='Liberation Sans')
h, l = ax.get_legend_handles_labels()
leg = ax.legend(h[::-1], l[::-1], loc='upper left', bbox_to_anchor=(846 / W, 1 - 562 / H), bbox_transform=fig.transFigure,
                frameon=False, handlelength=1, handleheight=1, labelspacing=0.46, handletextpad=1.08,
                borderpad=0, borderaxespad=0, prop={'family': 'Open Sans', 'size': 5.8})
for t in leg.get_texts():
    t.set_color('#555555')

# ---- C: chord diagram
cx, cy, R = 1483, 408, 320
ax_c = px_axes(1055, 6, 1896, 816)
ax_c.set_xlim(1055 - cx, 1896 - cx)
ax_c.set_ylim(cy - 816, cy - 6)
ax_c.set_facecolor('#eeeeee')
ax_c.set_xticks([])
ax_c.set_yticks([])
for s in ax_c.spines.values():
    s.set_visible(False)


def pol(r, a):
    t = np.radians(a)
    return (r * np.sin(t), r * np.cos(t))


tab20 = plt.get_cmap('tab20').colors
index = {n: i for i, n in enumerate(chord_names)}

for i, name in enumerate(chord_names):
    a1, a2, tr, ta = chord_start[i], chord_end[i], chord_tip_r[i], chord_tip_a[i]
    col = tab20[i % 20]
    if a2 - a1 < 0.8:
        # thin sector: short solid stub, then a faint thread down to the tip
        r_stub = max(tr, R - 32)
        ax_c.add_patch(Polygon([pol(R, a1), pol(R, a2), pol(r_stub, ta)], closed=True, fc=col, ec=col, lw=0.5, zorder=2))
        if tr < r_stub:
            ax_c.plot(*zip(pol(r_stub, ta), pol(tr, ta)), color=col, lw=0.7, alpha=0.5, zorder=2)
    else:
        arc = np.linspace(a1, a2, 12)
        rc = tr + 0.3 * (R - tr)
        verts = [pol(R, a) for a in arc] + [pol(rc, a2), pol(tr, ta), pol(rc, a1), pol(R, a1), pol(R, a1)]
        codes = [Path.MOVETO] + [Path.LINETO] * 11 + [Path.CURVE3] * 4 + [Path.CLOSEPOLY]
        ax_c.add_patch(PathPatch(Path(verts, codes), fc=col, ec=col, lw=0.3, zorder=2))
    # tick and label
    ax_c.plot(*zip(pol(R + 1, a1), pol(R + 4, a1)), color='black', lw=0.8, zorder=3)
    tx, ty = pol(R + 7, a1)
    if a1 < 180:
        ax_c.text(tx, ty, name, rotation=90 - a1, ha='left', va='center', rotation_mode='anchor', fontsize=7.5,
                  family='Liberation Sans', color='black')
    else:
        ax_c.text(tx, ty, name, rotation=270 - a1, ha='right', va='center', rotation_mode='anchor', fontsize=7.5,
                  family='Liberation Sans', color='black')


def draw_link(src, dst, lw, alpha):
    i = index[src]
    ad = hub_angle[dst]
    p0 = pol(chord_tip_r[i], chord_tip_a[i])
    p1 = pol(chord_tip_r[i] * 0.55, chord_tip_a[i])
    p2 = pol(135, ad)
    p3 = pol(290, ad)
    ax_c.add_patch(PathPatch(Path([p0, p1, p2, p3], [Path.MOVETO, Path.CURVE4, Path.CURVE4, Path.CURVE4]), fc='none',
                             ec=tab20[i % 20], lw=lw, alpha=alpha, zorder=4))


for src, dst in chord_links:
    draw_link(src, dst, 0.7, 0.4)
for src, dst in strong_links:
    draw_link(src, dst, 0.9, 0.8)

# panel letters
for letter, x, y in [('A', 19, 41), ('B', 34, 551), ('C', 1025, 40)]:
    fig.text(x / W, 1 - y / H, letter, ha='center', va='center', fontsize=19, fontweight='bold', family='Liberation Sans')

fig.savefig('out.png', dpi=100)
